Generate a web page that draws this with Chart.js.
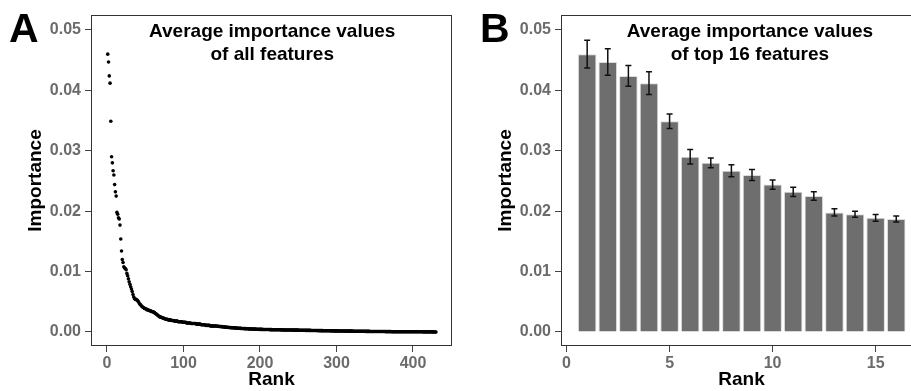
<!DOCTYPE html>
<html>
<head>
<meta charset="utf-8">
<script src="https://cdn.jsdelivr.net/npm/chart.js@4"></script>
<style>
  body { margin: 0; width: 911px; height: 391px; overflow: hidden; background: #fff; position: relative; }
  #chartA { position: absolute; left: 0; top: 0; }
  #chartB { position: absolute; left: 460px; top: 0; }
</style>
</head>
<body>
<canvas id="chartA" width="460" height="391"></canvas>
<canvas id="chartB" width="466" height="391"></canvas>
<script>
// Panel A: average importance of every feature, sorted by rank (1..430)
var importanceAll = [
  0.0460, 0.0447, 0.0424, 0.0412, 0.0349, 0.0290, 0.0280, 0.0267, 0.0260, 0.0244,
  0.0232, 0.0225, 0.0198, 0.0195, 0.0189, 0.0187, 0.0177, 0.0154, 0.0134, 0.0120,
  0.0115, 0.0108, 0.0106, 0.0105, 0.0103, 0.0097, 0.0093, 0.0088, 0.0083, 0.0079,
  0.0075, 0.0071, 0.0067, 0.0062, 0.0058, 0.0055, 0.0054, 0.0054, 0.0053, 0.0052,
  0.0050, 0.0048, 0.0046, 0.0045, 0.0043, 0.0042, 0.0041, 0.0040, 0.0039, 0.0039,
  0.0038, 0.0037, 0.0037, 0.0036, 0.0036, 0.0035, 0.0035, 0.0034, 0.0034, 0.0033,
  0.0033, 0.0032, 0.0031, 0.0030, 0.0029, 0.0028, 0.0027, 0.0026, 0.0025, 0.0025,
  0.0024, 0.0024, 0.0023, 0.0023, 0.0022, 0.0022, 0.0021, 0.0021, 0.0021, 0.0020,
  0.0020, 0.0020, 0.0020, 0.0019, 0.0019, 0.0019, 0.0019, 0.0018, 0.0018, 0.0018,
  0.0018, 0.0018, 0.0017, 0.0017, 0.0017, 0.0017, 0.0017, 0.0017, 0.0016, 0.0016,
  0.0016, 0.0016, 0.0016, 0.0015, 0.0015, 0.0015, 0.0015, 0.0015, 0.0015, 0.0014,
  0.0014, 0.0014, 0.0014, 0.0014, 0.0014, 0.0014, 0.0013, 0.0013, 0.0013, 0.0013,
  0.0013, 0.0013, 0.0012, 0.0012, 0.0012, 0.0012, 0.0012, 0.0012, 0.0011, 0.0011,
  0.0011, 0.0011, 0.0011, 0.0011, 0.0010, 0.0010, 0.0010, 0.0010, 0.0010, 0.0010,
  0.00100, 0.00100, 0.00098, 0.00096, 0.00095, 0.00093, 0.00092, 0.00090, 0.00089, 0.00088,
  0.00086, 0.00085, 0.00083, 0.00082, 0.00080, 0.00079, 0.00078, 0.00076, 0.00075, 0.00074,
  0.00073, 0.00072, 0.00071, 0.00070, 0.00069, 0.00068, 0.00067, 0.00066, 0.00065, 0.00064,
  0.00063, 0.00062, 0.00061, 0.00060, 0.00059, 0.00058, 0.00058, 0.00057, 0.00056, 0.00055,
  0.00055, 0.00054, 0.00053, 0.00053, 0.00052, 0.00051, 0.00051, 0.00050, 0.00049, 0.00049,
  0.00048, 0.00048, 0.00047, 0.00047, 0.00046, 0.00046, 0.00045, 0.00045, 0.00044, 0.00044,
  0.00043, 0.00043, 0.00043, 0.00042, 0.00042, 0.00042, 0.00041, 0.00041, 0.00041, 0.00040,
  0.00040, 0.00040, 0.00039, 0.00039, 0.00039, 0.00038, 0.00038, 0.00038, 0.00037, 0.00037,
  0.00037, 0.00037, 0.00036, 0.00036, 0.00036, 0.00036, 0.00035, 0.00035, 0.00035, 0.00035,
  0.00034, 0.00034, 0.00034, 0.00034, 0.00033, 0.00033, 0.00033, 0.00033, 0.00032, 0.00032,
  0.00032, 0.00032, 0.00031, 0.00031, 0.00031, 0.00031, 0.00030, 0.00030, 0.00030, 0.00030,
  0.00029, 0.00029, 0.00029, 0.00029, 0.00028, 0.00028, 0.00028, 0.00028, 0.00027, 0.00027,
  0.00027, 0.00027, 0.00026, 0.00026, 0.00026, 0.00026, 0.00025, 0.00025, 0.00025, 0.00025,
  0.00024, 0.00024, 0.00024, 0.00024, 0.00023, 0.00023, 0.00023, 0.00023, 0.00022, 0.00022,
  0.00022, 0.00022, 0.00021, 0.00021, 0.00021, 0.00021, 0.00020, 0.00020, 0.00020, 0.00020,
  0.00020, 0.00019, 0.00019, 0.00019, 0.00019, 0.00019, 0.00018, 0.00018, 0.00018, 0.00018,
  0.00018, 0.00017, 0.00017, 0.00017, 0.00017, 0.00017, 0.00016, 0.00016, 0.00016, 0.00016,
  0.00016, 0.00015, 0.00015, 0.00015, 0.00015, 0.00015, 0.00014, 0.00014, 0.00014, 0.00014,
  0.00014, 0.00013, 0.00013, 0.00013, 0.00013, 0.00013, 0.00012, 0.00012, 0.00012, 0.00012,
  0.00012, 0.00011, 0.00011, 0.00011, 0.00011, 0.00011, 0.00011, 0.00010, 0.00010, 0.00010,
  0.00010, 0.00010, 0.00010, 0.00009, 0.00009, 0.00009, 0.00009, 0.00009, 0.00009, 0.00008,
  0.00008, 0.00008, 0.00008, 0.00008, 0.00008, 0.00008, 0.00007, 0.00007, 0.00007, 0.00007,
  0.00007, 0.00007, 0.00007, 0.00006, 0.00006, 0.00006, 0.00006, 0.00006, 0.00006, 0.00006,
  0.00006, 0.00005, 0.00005, 0.00005, 0.00005, 0.00005, 0.00005, 0.00005, 0.00005, 0.00004,
  0.00004, 0.00004, 0.00004, 0.00004, 0.00004, 0.00004, 0.00004, 0.00004, 0.00004, 0.00004,
  0.00004, 0.00004, 0.00004, 0.00003, 0.00003, 0.00003, 0.00003, 0.00003, 0.00003, 0.00003,
  0.00003, 0.00003, 0.00003, 0.00003, 0.00003, 0.00003, 0.00003, 0.00003, 0.00003, 0.00003,
  0.00003, 0.00003, 0.00002, 0.00002, 0.00002, 0.00002, 0.00002, 0.00002, 0.00002, 0.00002,
  0.00002, 0.00002, 0.00002, 0.00002, 0.00002, 0.00002, 0.00001, 0.00001, 0.00001, 0.00001
];

// Panel B: top 16 features, mean and error (half-length of error bar)
var topRank = [1, 2, 3, 4, 5, 6, 7, 8, 9, 10, 11, 12, 13, 14, 15, 16];
var topMean = [0.0460, 0.0447, 0.0424, 0.0412, 0.0349, 0.0290, 0.0280, 0.0267,
               0.0260, 0.0244, 0.0232, 0.0225, 0.0198, 0.0195, 0.0189, 0.0187];
var topErr  = [0.0023, 0.0022, 0.0017, 0.0019, 0.0012, 0.0012, 0.0008, 0.0010,
               0.0009, 0.00075, 0.00075, 0.0007, 0.0006, 0.0005, 0.00055, 0.0005];

var yTicks = [0, 0.01, 0.02, 0.03, 0.04, 0.05];
var xTicksA = [0, 100, 200, 300, 400];
var xTicksB = [0, 5, 10, 15];

var FONT = 'Arial, "Liberation Sans", sans-serif';
var tickFont = { family: FONT, size: 16, weight: 'bold' };
var titleFont = { family: FONT, size: 19, weight: 'bold' };

function yAxis(width, titlePad) {
    return {
        type: 'linear',
        min: -0.00232,
        max: 0.05248,
        afterFit: function (s) { s.width = width; },
        afterBuildTicks: function (s) { s.ticks = yTicks.map(function (v) { return { value: v }; }); },
        ticks: {
            font: tickFont, color: '#6b6b6b', padding: 4,
            callback: function (v) { return v.toFixed(2); }
        },
        grid: { drawOnChartArea: false, drawTicks: true, tickLength: 6, color: '#444' },
        border: { display: false },
        title: { display: true, text: 'Importance', font: titleFont, color: '#000', padding: { top: titlePad, bottom: 0 } }
    };
}

function xAxis(min, max, tickList) {
    return {
        type: 'linear',
        min: min,
        max: max,
        offset: false,
        afterFit: function (s) { s.height = 45; },
        afterBuildTicks: function (s) { s.ticks = tickList.map(function (v) { return { value: v }; }); },
        ticks: { font: tickFont, color: '#6b6b6b', padding: 2, maxRotation: 0 },
        grid: { drawOnChartArea: false, drawTicks: true, tickLength: 6, color: '#444', offset: false },
        border: { display: false },
        title: { display: true, text: 'Rank', font: titleFont, color: '#000', padding: { top: 0, bottom: 0 } }
    };
}

// frame, panel letter and the two-line caption inside the panel
function panelDecor(letter, letterX, lines, captionX) {
    return {
        id: 'panelDecor',
        afterDraw: function (chart) {
            var ctx = chart.ctx, a = chart.chartArea;
            ctx.save();
            ctx.strokeStyle = '#333';
            ctx.lineWidth = 1;
            ctx.strokeRect(a.left + 0.5, a.top + 0.5, a.right - a.left - 1, a.bottom - a.top - 1);

            ctx.fillStyle = '#000';
            ctx.textBaseline = 'alphabetic';
            ctx.textAlign = 'left';
            ctx.font = 'bold 41px ' + FONT;
            ctx.fillText(letter, letterX, 42);

            ctx.textAlign = 'center';
            ctx.font = 'bold 19px ' + FONT;
            var cx = chart.scales.x.getPixelForValue(captionX);
            ctx.fillText(lines[0], cx, a.top + 22);
            ctx.fillText(lines[1], cx, a.top + 44.5);
            ctx.restore();
        }
    };
}

var errorBars = {
    id: 'errorBars',
    afterDatasetsDraw: function (chart) {
        var ctx = chart.ctx, xs = chart.scales.x, ys = chart.scales.y;
        ctx.save();
        ctx.strokeStyle = '#111';
        ctx.lineWidth = 1.5;
        for (var i = 0; i < topRank.length; i++) {
            var x = xs.getPixelForValue(topRank[i]);
            var y1 = ys.getPixelForValue(topMean[i] + topErr[i]);
            var y2 = ys.getPixelForValue(topMean[i] - topErr[i]);
            ctx.beginPath();
            ctx.moveTo(x, y1); ctx.lineTo(x, y2);
            ctx.moveTo(x - 3, y1); ctx.lineTo(x + 3, y1);
            ctx.moveTo(x - 3, y2); ctx.lineTo(x + 3, y2);
            ctx.stroke();
        }
        ctx.restore();
    }
};

var common = {
    responsive: false,
    animation: false,
    plugins: { legend: { display: false }, tooltip: { enabled: false } }
};

new Chart(document.getElementById('chartA').getContext('2d'), {
    type: 'scatter',
    data: {
        datasets: [{
            data: importanceAll.map(function (v, i) { return { x: i + 1, y: v }; }),
            backgroundColor: '#000',
            borderWidth: 0,
            pointRadius: 1.8
        }]
    },
    options: Object.assign({}, common, {
        layout: { padding: { top: 15, right: 8, left: 0, bottom: 0 } },
        scales: { x: xAxis(-20.9, 451, xTicksA), y: yAxis(91, 24) }
    }),
    plugins: [panelDecor('A', 9, ['Average importance values', 'of all features'], 216)]
});

new Chart(document.getElementById('chartB').getContext('2d'), {
    type: 'bar',
    data: {
        datasets: [{
            data: topRank.map(function (r, i) { return { x: r, y: topMean[i] }; }),
            backgroundColor: '#6e6e6e',
            borderColor: '#dcdcdc',
            borderWidth: 1,
            barPercentage: 0.9,
            categoryPercentage: 1.0
        }]
    },
    options: Object.assign({}, common, {
        layout: { padding: { top: 15, right: 4, left: 0, bottom: 0 } },
        scales: { x: xAxis(-0.27, 17.25, xTicksB), y: yAxis(101, 34) }
    }),
    plugins: [errorBars, panelDecor('B', 20, ['Average importance values', 'of top 16 features'], 8.9)]
});
</script>
</body>
</html>
